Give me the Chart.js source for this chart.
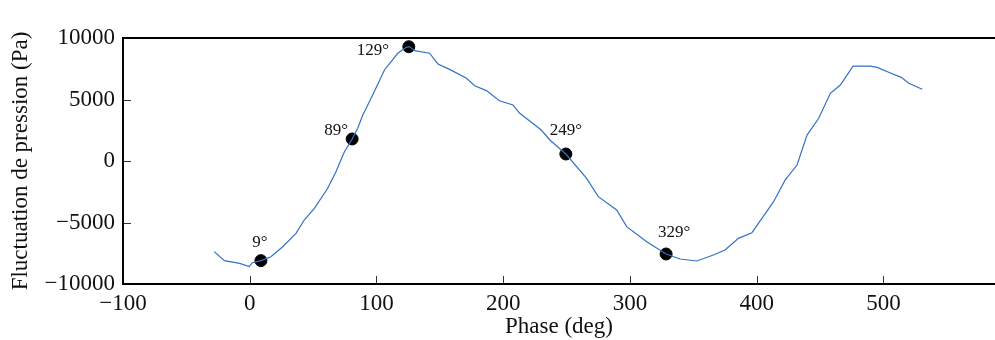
<!DOCTYPE html>
<html>
<head>
<meta charset="utf-8">
<script src="https://cdn.jsdelivr.net/npm/chart.js@4/dist/chart.umd.min.js"></script>
<style>
  html, body { margin: 0; padding: 0; background: #fff; }
  #chart { display: block; }
</style>
</head>
<body>
<canvas id="chart" width="995" height="340"></canvas>
<script>
// pressure fluctuation vs phase
const phaseDeg = [-28, -20, -8, -0.4, 2, 9, 16.7, 26, 36.5, 43, 51, 61.5, 68, 74.7, 80.8, 85.2, 89.2, 97,
  106.3, 116.8, 123.5, 126, 130, 141.9, 148.5, 157.7, 171, 177.5, 186.7, 197, 207.7, 213, 230, 236.8,
  249.4, 265.8, 275, 289.5, 297.4, 313.2, 328.5, 339.5, 352.7, 365.8, 375, 385.6, 396.2, 404.1, 413.3,
  422.5, 431.8, 439.7, 448.9, 458.1, 466, 476, 489.7, 495, 506, 514, 520, 530.6];
const pressurePa = [-7370, -8100, -8320, -8590, -8270, -8100, -7780, -6970, -5880, -4800, -3850, -2220,
  -870, 760, 1790, 2660, 3740, 5370, 7400, 8760, 9240, 9300, 8970, 8760, 7890, 7450, 6720, 6120, 5720,
  4900, 4550, 3880, 2520, 1710, 569, -1410, -2900, -3980, -5340, -6560, -7560, -7970, -8130, -7640,
  -7240, -6290, -5830, -4660, -3310, -1540, -330, 2110, 3470, 5500, 6180, 7720, 7720, 7610, 7130, 6800,
  6320, 5830];

// marked points
const markerPhase = [8.8, 80.8, 125.5, 249.4, 328.5];
const markerPressure = [-8100, 1790, 9290, 569, -7560];
const markerLabels = ['9°', '89°', '129°', '249°', '329°'];

const xTicks = [-100, 0, 100, 200, 300, 400, 500];
const yTicks = [-10000, -5000, 0, 5000, 10000];

const SERIF = '"Liberation Serif", "DejaVu Serif", serif';

// offsets of each marker label relative to its dot (pixels)
const labelOffsets = [[-1, -18], [-16, -8], [-36, 4], [0, -23], [8, -21]];

const axesPlugin = {
  id: 'texAxes',
  afterDraw(chart) {
    const { ctx, chartArea: { left, right, top, bottom } } = chart;
    const xs = chart.scales.x, ys = chart.scales.y;
    ctx.save();
    // inward ticks
    ctx.strokeStyle = '#333';
    ctx.lineWidth = 1;
    ctx.beginPath();
    xTicks.forEach(function(v) {
      const px = Math.round(xs.getPixelForValue(v)) + 0.5;
      if (v === xs.min) return;
      ctx.moveTo(px, bottom);
      ctx.lineTo(px, bottom - 8);
    });
    yTicks.forEach(function(v) {
      const py = Math.round(ys.getPixelForValue(v)) + 0.5;
      if (v === ys.min || v === ys.max) return;
      ctx.moveTo(left, py);
      ctx.lineTo(left + 8, py);
    });
    ctx.stroke();
    // spines: left, bottom, top
    ctx.strokeStyle = '#000';
    ctx.lineWidth = 2;
    ctx.beginPath();
    ctx.moveTo(right, top);
    ctx.lineTo(left, top);
    ctx.lineTo(left, bottom);
    ctx.lineTo(right, bottom);
    ctx.stroke();
    // marker labels
    ctx.fillStyle = '#111';
    ctx.font = '17px ' + SERIF;
    ctx.textAlign = 'center';
    ctx.textBaseline = 'middle';
    const meta = chart.getDatasetMeta(1);
    meta.data.forEach(function(pt, i) {
      const off = labelOffsets[i];
      ctx.fillText(markerLabels[i], pt.x + off[0], pt.y + off[1]);
    });
    ctx.restore();
  }
};

function fmt(v) {
  return String(v).replace('-', '\u2212');
}

new Chart(document.getElementById('chart'), {
  type: 'scatter',
  data: {
    datasets: [{
      data: phaseDeg.map(function(x, i) { return { x: x, y: pressurePa[i] }; }),
      showLine: true,
      borderColor: '#3372c6',
      borderWidth: 1.2,
      pointRadius: 0,
      tension: 0
    }, {
      data: markerPhase.map(function(x, i) { return { x: x, y: markerPressure[i] }; }),
      showLine: false,
      pointRadius: 6,
      pointBackgroundColor: '#000',
      pointBorderColor: '#000'
    }]
  },
  options: {
    responsive: false,
    animation: false,
    layout: { autoPadding: false, padding: { top: 38, right: 0, left: 0, bottom: 0 } },
    plugins: { legend: { display: false }, tooltip: { enabled: false } },
    scales: {
      x: {
        type: 'linear',
        min: -100,
        max: 588,
        afterBuildTicks(scale) { scale.ticks = xTicks.map(function(v) { return { value: v }; }); },
        afterFit(scale) { scale.height = 56; scale.paddingRight = 0; },
        grid: { display: false, drawTicks: false },
        border: { display: false },
        ticks: {
          padding: 6,
          color: '#111',
          font: { family: SERIF, size: 23 },
          maxRotation: 0,
          callback: function(v) { return fmt(v); }
        },
        title: {
          display: true,
          text: 'Phase (deg)',
          color: '#111',
          font: { family: SERIF, size: 23 },
          padding: { top: 0, bottom: -1 }
        }
      },
      y: {
        min: -10000,
        max: 10000,
        afterBuildTicks(scale) { scale.ticks = yTicks.map(function(v) { return { value: v }; }); },
        afterFit(scale) { scale.width = 123; },
        grid: { display: false, drawTicks: false },
        border: { display: false },
        ticks: {
          padding: 8,
          color: '#111',
          font: { family: SERIF, size: 23 },
          callback: function(v) { return fmt(v); }
        },
        title: {
          display: true,
          text: 'Fluctuation de pression (Pa)',
          color: '#111',
          font: { family: SERIF, size: 23 },
          padding: { top: 7, bottom: 0 }
        }
      }
    }
  },
  plugins: [axesPlugin]
});
</script>
</body>
</html>
